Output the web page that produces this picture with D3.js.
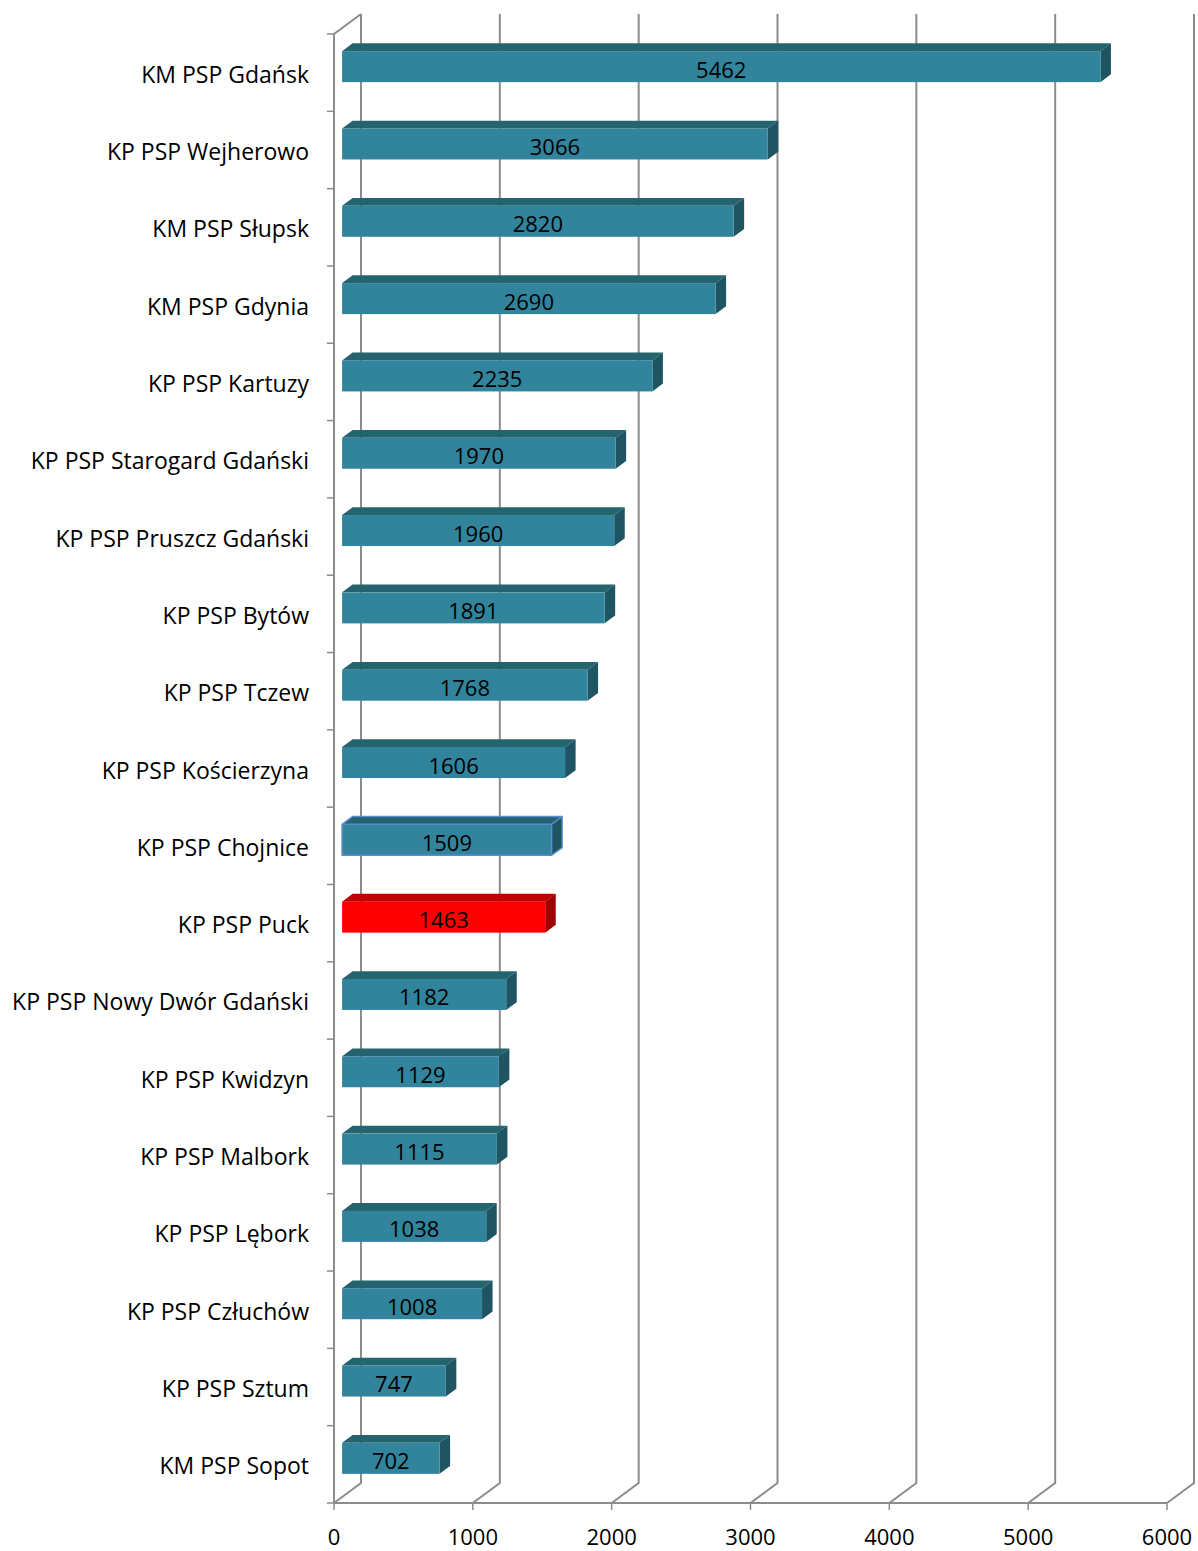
<!DOCTYPE html>
<html><head><meta charset="utf-8">
<script src="https://cdn.jsdelivr.net/npm/d3@7"></script>
<style>body{margin:0;background:#fff}svg{display:block}</style>
</head><body>
<svg id="c" width="1198" height="1551"></svg>
<script>
const categories = ["KM PSP Gdańsk","KP PSP Wejherowo","KM PSP Słupsk","KM PSP Gdynia","KP PSP Kartuzy","KP PSP Starogard Gdański","KP PSP Pruszcz Gdański","KP PSP Bytów","KP PSP Tczew","KP PSP Kościerzyna","KP PSP Chojnice","KP PSP Puck","KP PSP Nowy Dwór Gdański","KP PSP Kwidzyn","KP PSP Malbork","KP PSP Lębork","KP PSP Człuchów","KP PSP Sztum","KM PSP Sopot"];
const values = [5462,3066,2820,2690,2235,1970,1960,1891,1768,1606,1509,1463,1182,1129,1115,1038,1008,747,702];
const xTicks = [0,1000,2000,3000,4000,5000,6000];
const highlight = "KP PSP Puck";
const outlined = "KP PSP Chojnice";

const svg = d3.select("#c");
const FONT = "'Open Sans', sans-serif";
const DX = 27, DY = -20;
const top0 = 34, bottom0 = 1503;
const x = d3.scaleLinear().domain([0,6000]).range([334,1167]);
const y = d3.scaleBand().domain(categories).range([top0,bottom0]).paddingInner(0).paddingOuter(0);
const grid = "#8c8c8c";

const g = svg.append("g");
xTicks.forEach(t => {
  const xf = x(t);
  g.append("path")
    .attr("d", `M${xf+DX},${top0+DY} L${xf+DX},${bottom0+DY} L${xf},${bottom0}`)
    .attr("fill","none").attr("stroke",grid).attr("stroke-width",2);
});
g.append("path")
  .attr("d", `M${x(0)},${bottom0} L${x(0)},${top0} L${x(0)+DX},${top0+DY}`)
  .attr("fill","none").attr("stroke",grid).attr("stroke-width",2);
g.append("line").attr("x1",x(0)).attr("x2",x(6000)).attr("y1",bottom0).attr("y2",bottom0)
  .attr("stroke",grid).attr("stroke-width",2);

const yEdges = categories.map(c => y(c)).concat([bottom0]);
yEdges.forEach(v => {
  g.append("line").attr("x1",x(0)-7).attr("x2",x(0)).attr("y1",v).attr("y2",v)
    .attr("stroke",grid).attr("stroke-width",1.5);
});
xTicks.forEach(t => {
  g.append("line").attr("x1",x(t)).attr("x2",x(t)).attr("y1",bottom0).attr("y2",bottom0+7)
    .attr("stroke",grid).attr("stroke-width",1.5);
  svg.append("text").attr("x",x(t)).attr("y",1545).attr("text-anchor","middle")
    .attr("font-family",FONT).attr("font-size",22)
    .attr("fill","#000").text(t);
});

categories.forEach(c => {
  svg.append("text").attr("x",309).attr("y",y(c)+y.bandwidth()/2+1)
    .attr("text-anchor","end").attr("dominant-baseline","central")
    .attr("font-family",FONT).attr("font-size",23).attr("fill","#000").text(c);
});

const d0 = 0.3, d1 = 0.69;
const bw = 31;
const bars = svg.append("g");
categories.forEach((c,i) => {
  const v = values[i];
  const red = c === highlight;
  const front = red ? "#ff0000" : "#31849b";
  const topC = red ? "#c00000" : "#24646f";
  const side = red ? "#a00000" : "#1f5562";
  const ox = DX*d0, oy = DY*d0;
  const bx = DX*(d1-d0), by = DY*(d1-d0);
  const x0 = x(0)+ox, x1 = x(v)+ox;
  const yt = y(c) + (y.bandwidth()-bw)/2 + oy, yb = yt + bw;
  bars.append("path").attr("d",`M${x0},${yt} L${x0+bx},${yt+by} L${x1+bx},${yt+by} L${x1},${yt} Z`)
    .attr("fill",topC);
  bars.append("path").attr("d",`M${x1},${yt} L${x1+bx},${yt+by} L${x1+bx},${yb+by} L${x1},${yb} Z`)
    .attr("fill",side);
  bars.append("rect").attr("x",x0).attr("y",yt).attr("width",x1-x0).attr("height",bw)
    .attr("fill",front);
  if (c === outlined) {
    bars.append("path").attr("d",`M${x0},${yb} L${x0},${yt} L${x0+bx},${yt+by} L${x1+bx},${yt+by} L${x1+bx},${yb+by} L${x1},${yb} Z M${x0},${yt} L${x1},${yt} L${x1},${yb} M${x1},${yt} L${x1+bx},${yt+by}`)
      .attr("fill","none").attr("stroke","#5b8bd0").attr("stroke-width",1.5);
  }
  bars.append("text").attr("x",(x0+x1)/2).attr("y",(yt+yb)/2+2)
    .attr("text-anchor","middle").attr("dominant-baseline","central")
    .attr("font-family",FONT).attr("font-size",22).attr("fill","#000").text(v);
});
</script>
</body></html>
